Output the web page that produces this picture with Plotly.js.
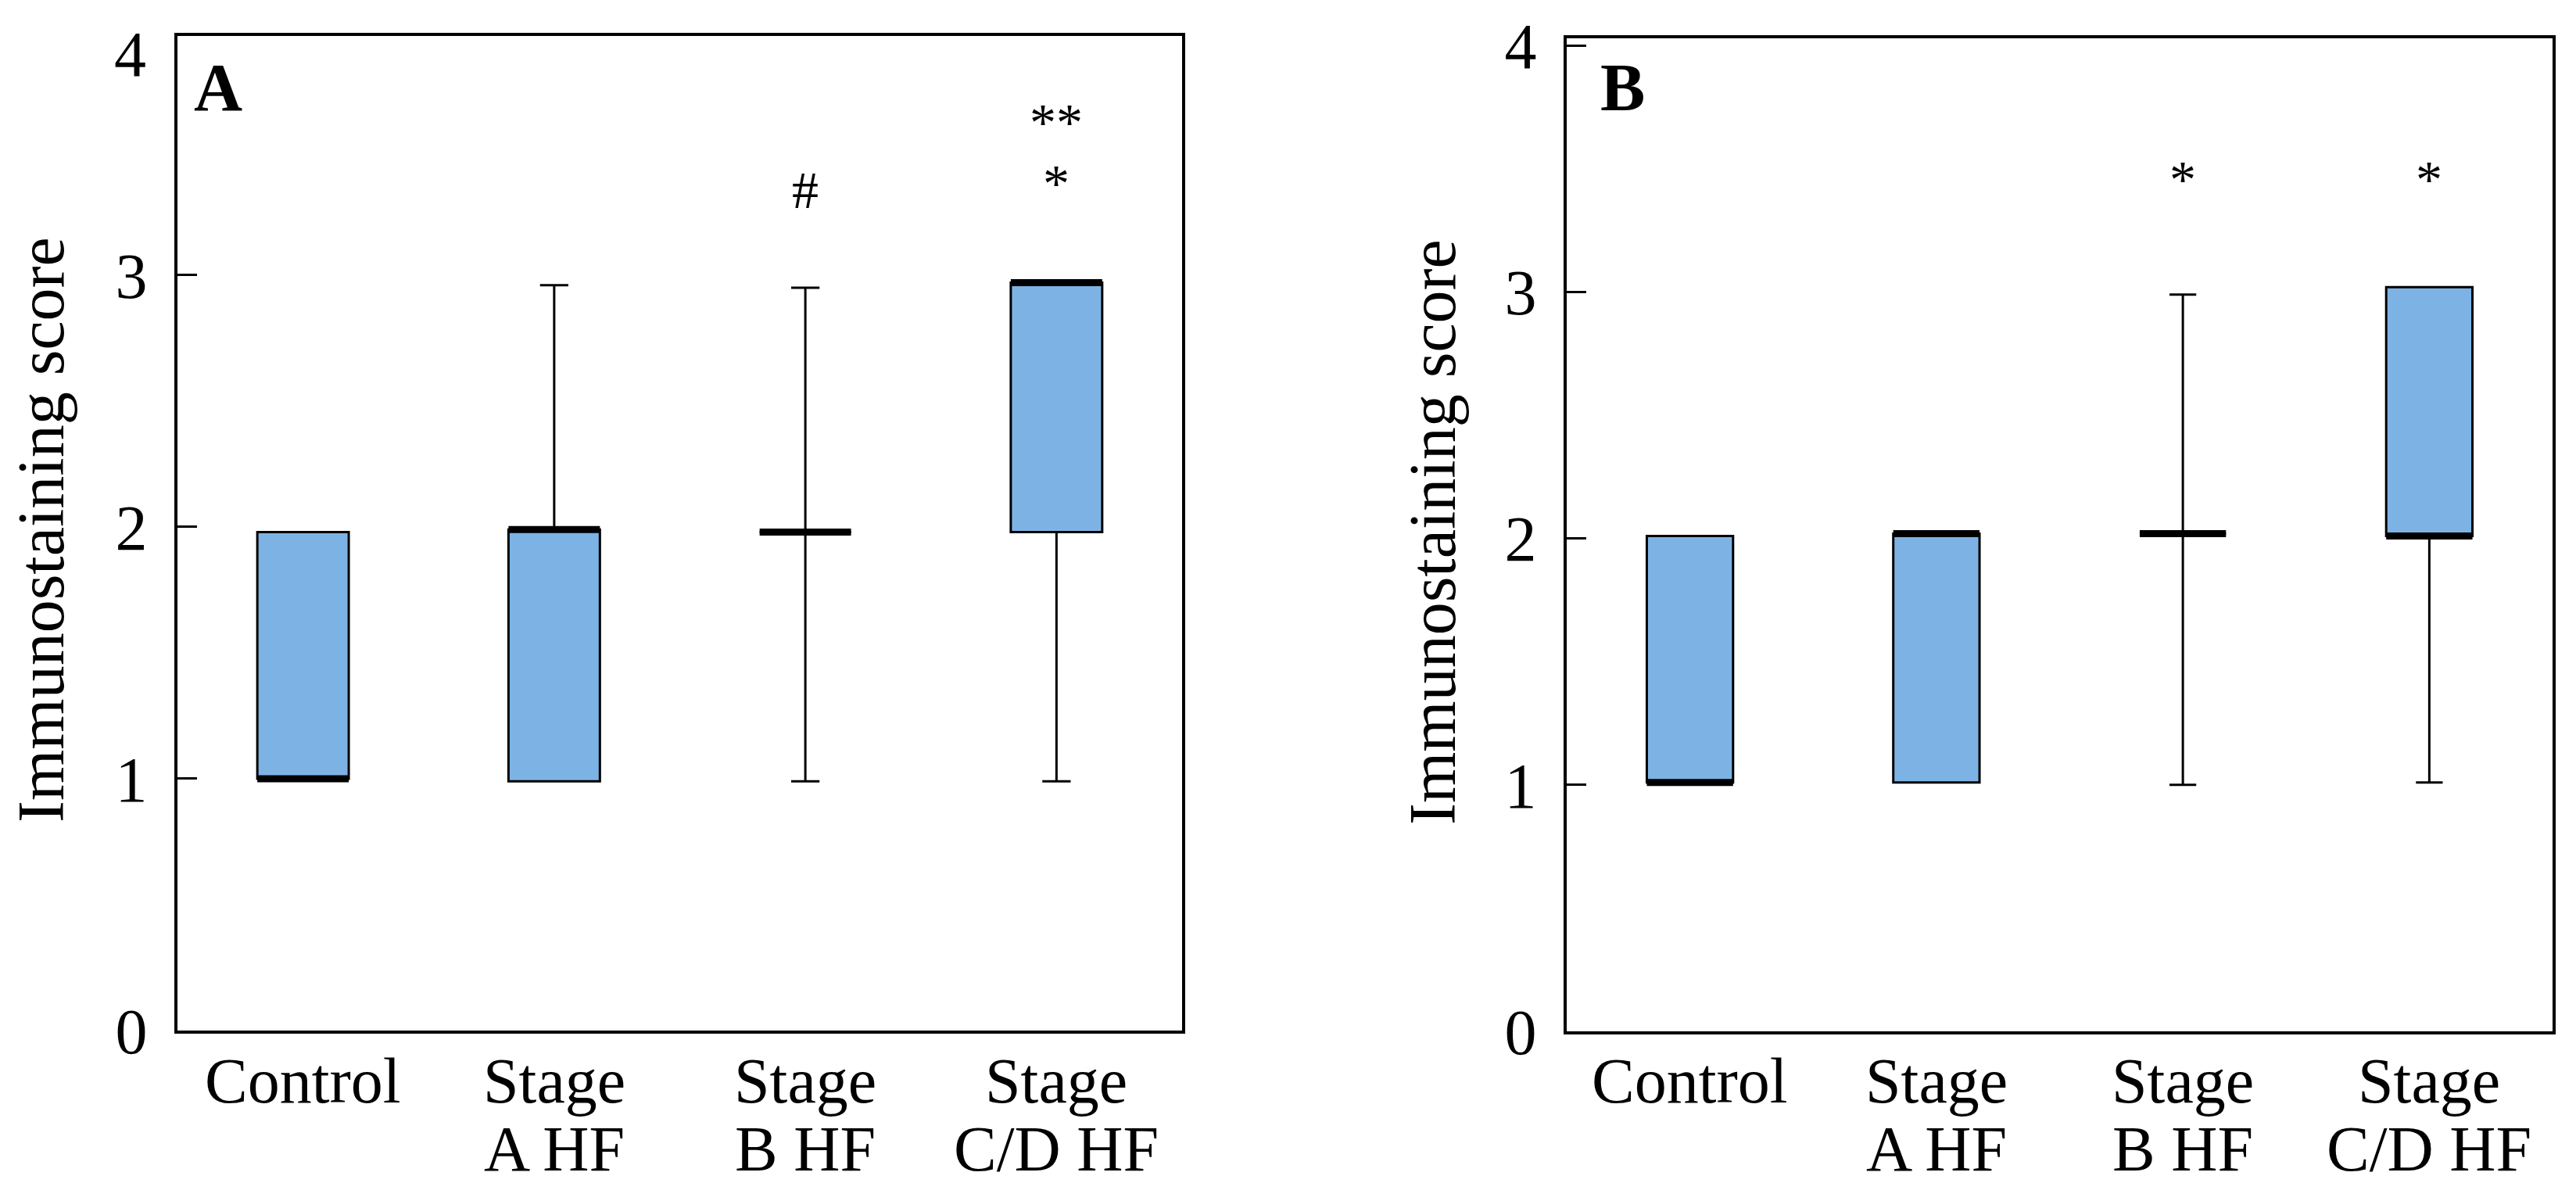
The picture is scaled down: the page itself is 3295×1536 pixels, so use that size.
<!DOCTYPE html>
<html>
<head>
<meta charset="utf-8">
<script src="https://cdn.plot.ly/plotly-3.0.1.min.js"></script>
<style>html,body{margin:0;padding:0;background:#fff;}#chart{width:3295px;height:1536px;}</style>
</head>
<body>
<div id="chart"></div>
<script>
// ---- data ----
const categories = ['Control', 'Stage<br>A HF', 'Stage<br>B HF', 'Stage<br>C/D HF'];
const positions = [0, 1, 2, 3];
const yTicks = [0, 1, 2, 3, 4];

// Panel A
const aLower  = [1.00, 0.99, 0.99, 0.99];
const aQ1     = [1.00, 0.99, 1.98, 1.98];
const aMedian = [1.00, 1.99, 1.98, 2.97];
const aQ3     = [1.98, 1.99, 1.98, 2.97];
const aUpper  = [1.98, 2.96, 2.95, 2.97];
const aSigX    = [2, 3, 3];
const aSigY    = [3.35, 3.38, 3.62];
const aSigText = ['#', '*', '**'];

// Panel B
const bLower  = [1.01, 1.01, 1.00, 1.01];
const bQ1     = [1.01, 1.01, 2.02, 2.01];
const bMedian = [1.01, 2.02, 2.02, 2.01];
const bQ3     = [2.01, 2.02, 2.02, 3.02];
const bUpper  = [2.01, 2.02, 2.99, 3.02];
const bSigX    = [2, 3];
const bSigY    = [3.47, 3.47];
const bSigText = ['*', '*'];

const yTitle = 'Immunostaining score';
const panelLabels = ['A', 'B'];

// ---- style ----
const FONT = 'Liberation Serif, Times New Roman, serif';
const FILL = '#7db3e4';
const BOXW_A = 0.364, BOXW_B = 0.35;
const W = 3295, H = 1536;

function boxTrace(lo, q1, med, q3, hi, w, xa, ya) {
  return {
    type: 'box', x: positions, lowerfence: lo, q1: q1, median: med, q3: q3, upperfence: hi,
    width: w, whiskerwidth: 0.31, fillcolor: FILL,
    line: {color: '#000', width: 3}, boxpoints: false, hoverinfo: 'skip',
    xaxis: xa, yaxis: ya, showlegend: false
  };
}
function medianTrace(med, w, xa, ya) {
  const xs = [], ys = [];
  positions.forEach((p, i) => { xs.push(p - w / 2, p + w / 2, null); ys.push(med[i], med[i], null); });
  return {type: 'scatter', mode: 'lines', x: xs, y: ys, line: {color: '#000', width: 9},
          hoverinfo: 'skip', xaxis: xa, yaxis: ya, showlegend: false};
}

const data = [
  boxTrace(aLower, aQ1, aMedian, aQ3, aUpper, BOXW_A, 'x', 'y'),
  medianTrace(aMedian, BOXW_A, 'x', 'y'),
  boxTrace(bLower, bQ1, bMedian, bQ3, bUpper, BOXW_B, 'x2', 'y2'),
  medianTrace(bMedian, BOXW_B, 'x2', 'y2')
];

function xAxis(d, anchor) {
  return {domain: d, anchor: anchor, range: [-0.5, 3.5], tickvals: positions, showticklabels: false,
          showline: true, mirror: true, linecolor: '#000', linewidth: 4, ticks: '',
          showgrid: false, zeroline: false};
}
function yAxis(d, anchor, top) {
  return {domain: d, anchor: anchor, range: [0, top], tickvals: yTicks,
          showline: true, mirror: true, linecolor: '#000', linewidth: 4,
          ticks: 'inside', ticklen: 25, tickwidth: 3, tickcolor: '#000',
          showgrid: false, zeroline: false, ticklabelstandoff: 18,
          tickfont: {family: FONT, size: 82, color: '#000'}};
}

const tf = {family: FONT, size: 82, color: '#000'};
const sf = {family: FONT, size: 68, color: '#000'};
const annotations = [];
// category labels, one annotation per line for tight line spacing
const lineY = [1 - 1382 / H, 1 - 1469 / H];
[['x', 'y'], ['x2', 'y2']].forEach(([xr]) => {
  categories.forEach((c, i) => {
    c.split('<br>').forEach((ln, j) => annotations.push({xref: xr, yref: 'paper', x: positions[i], y: lineY[j],
      xanchor: 'center', yanchor: 'middle', text: ln, showarrow: false, font: tf}));
  });
});
aSigX.forEach((x, i) => annotations.push({xref: 'x', yref: 'y', x: x, y: aSigY[i], text: aSigText[i], showarrow: false,
  xanchor: 'center', yanchor: 'middle', font: sf, yshift: -4}));
bSigX.forEach((x, i) => annotations.push({xref: 'x2', yref: 'y2', x: x, y: bSigY[i], text: bSigText[i], showarrow: false,
  xanchor: 'center', yanchor: 'middle', font: sf, yshift: -4}));
// panel letters
annotations.push({xref: 'paper', yref: 'paper', x: 279 / W, y: 1 - 112 / H, xanchor: 'center', yanchor: 'middle',
  text: '<b>' + panelLabels[0] + '</b>', showarrow: false, font: {family: FONT, size: 86, color: '#000'}});
annotations.push({xref: 'paper', yref: 'paper', x: 2075 / W, y: 1 - 112 / H, xanchor: 'center', yanchor: 'middle',
  text: '<b>' + panelLabels[1] + '</b>', showarrow: false, font: {family: FONT, size: 86, color: '#000'}});
// tick "4" for panel A (above the drawn range)
annotations.push({xref: 'paper', yref: 'paper', x: 189 / W, y: 1 - 69 / H, xanchor: 'right', yanchor: 'middle',
  text: String(yTicks[4]), showarrow: false, font: tf});
// y titles
annotations.push({xref: 'paper', yref: 'paper', x: 52 / W, y: 1 - 678 / H, xanchor: 'center', yanchor: 'middle',
  text: yTitle, textangle: -90, showarrow: false, font: {family: FONT, size: 84, color: '#000'}});
annotations.push({xref: 'paper', yref: 'paper', x: 1832 / W, y: 1 - 681 / H, xanchor: 'center', yanchor: 'middle',
  text: yTitle, textangle: -90, showarrow: false, font: {family: FONT, size: 84, color: '#000'}});

const layout = {
  width: W, height: H, margin: {l: 0, r: 0, t: 0, b: 0},
  paper_bgcolor: '#fff', plot_bgcolor: '#fff', showlegend: false,
  xaxis: xAxis([227 / W, 1512 / W], 'y'),
  yaxis: yAxis([1 - 1318 / H, 1 - 46 / H], 'x', 3.95),
  xaxis2: xAxis([2004 / W, 3265 / W], 'y2'),
  yaxis2: yAxis([1 - 1319 / H, 1 - 49 / H], 'x2', 4.03),
  annotations: annotations
};

Plotly.newPlot('chart', data, layout, {staticPlot: true, displayModeBar: false});
</script>
</body>
</html>
